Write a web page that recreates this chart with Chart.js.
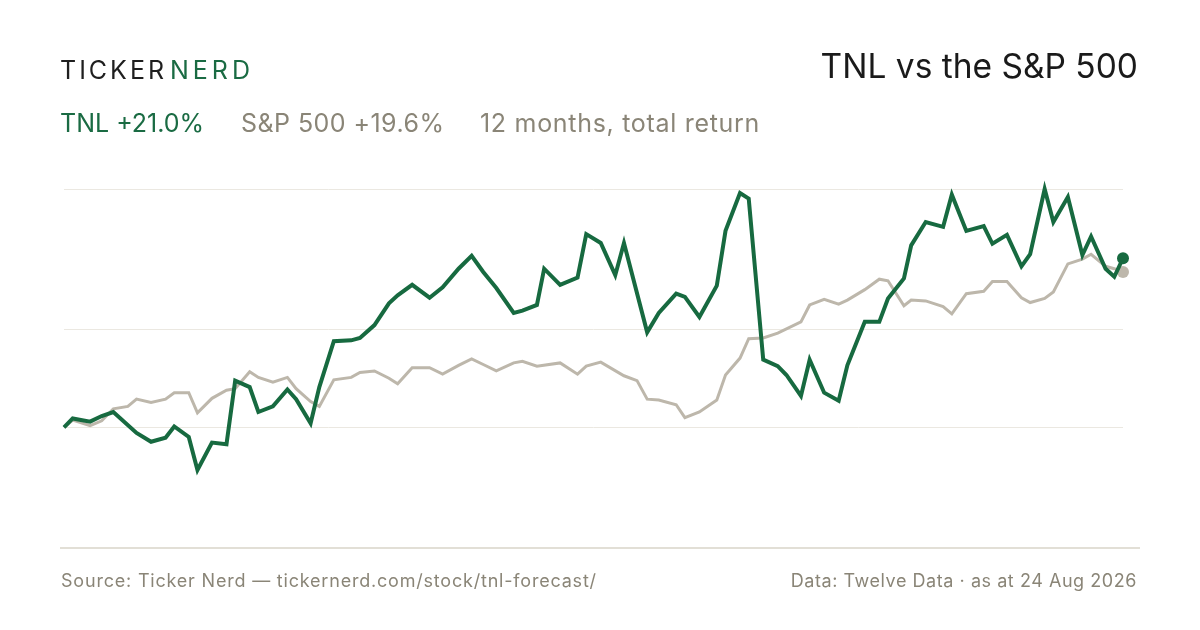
<!DOCTYPE html>
<html>
<head>
<meta charset="utf-8">
<script src="https://cdn.jsdelivr.net/npm/chart.js@4/dist/chart.umd.min.js"></script>
<style>
  html, body { margin: 0; padding: 0; background: #fff; }
  #wrap { position: relative; width: 1200px; height: 630px; font-family: Inter, "Noto Sans", sans-serif; }
  #wrap canvas { position: absolute; left: 0; top: 0; }
  .txt { position: absolute; white-space: nowrap; line-height: 1; }
  #brandA { left: 60px; top: 58px; font-size: 25px; letter-spacing: 3px; color: #1f1f1f; }
  #brandB { left: 170px; top: 58px; font-size: 25px; letter-spacing: 4px; color: #1a6b43; }
  #title { right: 62px; top: 50px; font-size: 33.5px; color: #1a1a1a; }
  .sub { top: 111px; font-size: 25px; color: #8a8577; }
  #subTnl { left: 60px; color: #1a6b43; }
  #subSpx { left: 241px; letter-spacing: 0.45px; }
  #subNote { left: 480px; letter-spacing: 0.7px; }
  #rule { position: absolute; left: 60px; top: 547px; width: 1080px; height: 2px; background: #e2dfd6; }
  .foot { top: 572px; font-size: 18px; color: #8a8577; }
  #footL { left: 61px; letter-spacing: 0.8px; }
  #footR { right: 63px; letter-spacing: 0.55px; }
</style>
</head>
<body>
<div id="wrap">
  <canvas id="chart" width="1200" height="630"></canvas>
  <div class="txt" id="brandA">TICKER</div>
  <div class="txt" id="brandB">NERD</div>
  <div class="txt" id="title">TNL vs the S&amp;P 500</div>
  <div class="txt sub" id="subTnl">TNL +21.0%</div>
  <div class="txt sub" id="subSpx">S&amp;P 500 +19.6%</div>
  <div class="txt sub" id="subNote">12 months, total return</div>
  <div id="rule"></div>
  <div class="txt foot" id="footL">Source: Ticker Nerd — tickernerd.com/stock/tnl-forecast/</div>
  <div class="txt foot" id="footR">Data: Twelve Data · as at 24 Aug 2026</div>
</div>
<script>
// days since start of the 12-month window, and % return
const tnlDays = [0, 3, 9, 13, 17, 25, 30, 35, 38, 43, 46, 51, 56, 59, 64, 67, 72, 77, 80, 85, 88, 93, 99, 102, 107, 112, 115, 120, 126, 130.5,
    136, 140.5, 144.5, 149, 155, 158, 163, 165.5, 171, 177, 180, 185, 190, 193, 201, 205, 211, 214, 219, 225, 228, 233, 236, 241, 246, 249,
    254, 257, 262, 267, 270, 276, 281, 284, 289.5, 292, 297, 303, 306, 311, 317, 320, 325, 330, 333, 338, 341, 346, 351, 354, 359, 362, 365];
const tnlReturn = [0, 1.1, 0.7, 1.4, 1.9, -0.7, -1.8, -1.3, 0.1, -1.2, -5.3, -1.9, -2.1, 5.8, 5.0, 1.9, 2.6, 4.7, 3.5, 0.5, 5.0, 10.7, 10.8, 11.1, 12.7, 15.4, 16.4, 17.7, 16.1, 17.4,
    19.7, 21.3, 19.3, 17.3, 14.2, 14.5, 15.2, 19.7, 17.7, 18.6, 24.0, 22.9, 18.9, 22.9, 11.8, 14.2, 16.6, 16.2, 13.7, 17.6, 24.4, 29.1, 28.4, 8.4, 7.6, 6.5,
    3.9, 8.4, 4.3, 3.3, 7.7, 13.1, 13.1, 16.0, 18.5, 22.6, 25.5, 24.9, 28.9, 24.4, 25.0, 22.8, 23.9, 20.0, 21.5, 29.6, 25.5, 28.6, 21.4, 23.7, 19.7, 18.7, 21.0];

const spxDays = [0, 3, 9, 13, 17, 22, 25, 30, 35, 38, 43, 46, 51, 56, 59, 64, 67, 72, 77, 80, 85, 88, 93, 99, 102, 107, 112, 115, 120, 126, 130.5,
    136, 140.5, 144.5, 149, 155, 158, 163, 171, 177, 180, 185, 193, 197.5, 201, 205, 211, 214, 219, 225, 228, 233, 236, 241, 246,
    254, 257, 262, 267, 270, 276, 281, 284, 289.5, 292, 297, 303, 306, 311, 317, 320, 325, 330, 333, 338, 341, 346, 351, 354, 359, 362, 365];
const spxReturn = [0, 0.9, 0.2, 0.8, 2.3, 2.6, 3.5, 3.1, 3.5, 4.3, 4.3, 1.8, 3.6, 4.6, 4.8, 6.9, 6.2, 5.6, 6.2, 4.8, 3.2, 2.6, 5.9, 6.2, 6.8, 7.0, 6.1, 5.4, 7.4, 7.4, 6.6,
    7.7, 8.5, 7.8, 7.0, 8.0, 8.2, 7.6, 8.0, 6.6, 7.6, 8.1, 6.4, 5.8, 3.5, 3.4, 2.8, 1.2, 1.9, 3.4, 6.5, 8.6, 11.0, 11.1, 11.7,
    13.1, 15.2, 15.9, 15.3, 15.8, 17.1, 18.4, 18.2, 15.1, 15.8, 15.7, 15.0, 14.1, 16.6, 16.9, 18.1, 18.1, 16.1, 15.5, 16.0, 16.8, 20.3, 20.9, 21.5, 20.0, 19.7, 19.3];

// horizontal guide lines (% return)
const gridValues = [0, 12.1, 29.6];

const green = '#176a40';
const stone = '#bdb7ab';

function toPoints(days, vals) {
    return days.map((d, i) => ({ x: d, y: vals[i] }));
}

function lastDot(size) {
    return function(ctx) {
        return ctx.dataIndex === ctx.dataset.data.length - 1 ? size : 0;
    };
}

const ctx = document.getElementById('chart').getContext('2d');
new Chart(ctx, {
    type: 'line',
    data: {
        datasets: [{
            label: 'TNL',
            data: toPoints(tnlDays, tnlReturn),
            borderColor: green,
            backgroundColor: green,
            borderWidth: 4,
            pointRadius: lastDot(6),
            pointBorderWidth: 0,
            tension: 0,
            clip: false,
            order: 1
        }, {
            label: 'S&P 500',
            data: toPoints(spxDays, spxReturn),
            borderColor: stone,
            backgroundColor: stone,
            borderWidth: 3,
            pointRadius: lastDot(6),
            pointBorderWidth: 0,
            tension: 0,
            clip: false,
            order: 2
        }]
    },
    options: {
        responsive: false,
        animation: false,
        layout: {
            padding: { left: 64, right: 77, top: 177.75, bottom: 130.25 }
        },
        scales: {
            x: {
                type: 'linear',
                min: 0,
                max: 365,
                display: false
            },
            y: {
                min: -9,
                max: 31,
                afterBuildTicks: function(axis) {
                    axis.ticks = gridValues.map(v => ({ value: v }));
                },
                ticks: { display: false },
                border: { display: false },
                grid: {
                    color: '#ebe8e1',
                    lineWidth: 1,
                    drawTicks: false
                }
            }
        },
        plugins: {
            legend: { display: false },
            tooltip: { enabled: false }
        }
    }
});
</script>
</body>
</html>
